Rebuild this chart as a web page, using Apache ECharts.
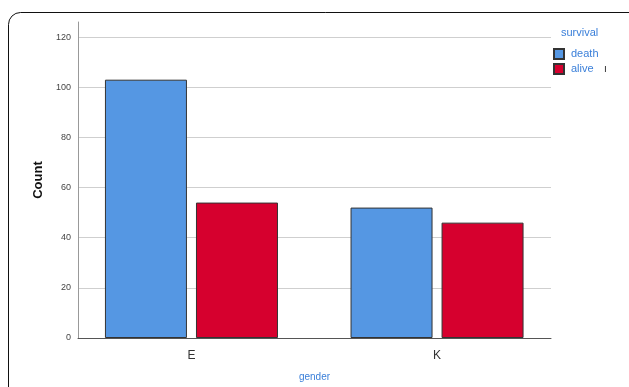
<!DOCTYPE html>
<html>
<head>
<meta charset="utf-8">
<script src="https://cdn.jsdelivr.net/npm/echarts@6/dist/echarts.min.js"></script>
<style>
  html, body { margin: 0; padding: 0; background: #fff; }
  #chart { width: 629px; height: 387px; }
</style>
</head>
<body>
<div id="chart"></div>
<script>
// Counts of survival outcome by gender
const categories = ['E', 'K'];
const seriesNames = ['death', 'alive'];
const deathValues = [103, 52];
const aliveValues = [54, 46];
const yTicks = [0, 20, 40, 60, 80, 100, 120];

const FONT = '"Liberation Sans", Arial, sans-serif';
const BLUE_TEXT = '#3a7fd9';

const toPoints = vals => vals.map((v, i) => [i, v]);

const chart = echarts.init(document.getElementById('chart'), null, { renderer: 'canvas' });

chart.setOption({
  animation: false,
  backgroundColor: '#fff',
  textStyle: { fontFamily: FONT },
  title: {
    text: 'survival',
    left: 556, top: 22,
    textStyle: { fontSize: 11, fontWeight: 'normal', color: BLUE_TEXT, fontFamily: FONT }
  },
  legend: {
    data: seriesNames,
    orient: 'vertical',
    left: 553, top: 48,
    padding: 0,
    itemWidth: 10, itemHeight: 10,
    itemGap: 3,
    icon: 'rect',
    textStyle: { fontSize: 11, color: BLUE_TEXT, fontFamily: FONT, padding: [-5, 0, 0, 2] }
  },
  grid: { left: 78, right: 78, top: 22, bottom: 47, containLabel: false },
  xAxis: {
    type: 'value',
    min: -0.462,
    max: 1.464,
    name: 'gender',
    nameLocation: 'middle',
    nameGap: 34,
    nameTextStyle: { fontSize: 10, color: BLUE_TEXT, fontFamily: FONT },
    axisLine: { show: true, onZero: false, lineStyle: { color: '#555', width: 1 } },
    axisTick: { show: false },
    splitLine: { show: false },
    axisLabel: {
      customValues: [0, 1],
      formatter: v => categories[Math.round(v)],
      fontSize: 12, color: '#333', margin: 12, fontFamily: FONT
    }
  },
  yAxis: {
    type: 'value',
    min: 0,
    max: 126,
    interval: 20,
    name: 'Count',
    nameLocation: 'middle',
    nameGap: 30,
    nameTextStyle: { fontSize: 13, fontWeight: 'bold', color: '#111', fontFamily: FONT },
    axisLine: { show: true, onZero: false, lineStyle: { color: '#999', width: 1 } },
    axisTick: { show: false },
    axisLabel: {
      customValues: yTicks,
      fontSize: 9, color: '#444', margin: 7, fontFamily: FONT
    },
    splitLine: {
      show: true,
      customValues: yTicks,
      showMinLine: false,
      showMaxLine: false,
      lineStyle: { color: '#cfcfcf', width: 1 }
    }
  },
  series: [
    {
      name: seriesNames[0],
      type: 'bar',
      data: toPoints(deathValues),
      barWidth: 82,
      barGap: '11%',
      itemStyle: { color: '#5597e3', borderColor: '#333', borderWidth: 1 }
    },
    {
      name: seriesNames[1],
      type: 'bar',
      data: toPoints(aliveValues),
      barWidth: 82,
      barGap: '11%',
      itemStyle: { color: '#d6002e', borderColor: '#333', borderWidth: 1 }
    }
  ],
  graphic: [
    {
      type: 'rect',
      shape: { x: 8.5, y: 12.5, width: 640, height: 400, r: 12 },
      style: { fill: null, stroke: '#111', lineWidth: 1 },
      silent: true
    },
    {
      type: 'text',
      left: 604, top: 64,
      style: { text: 'ı', fontSize: 10, fill: '#222', fontFamily: FONT }
    }
  ]
});
</script>
</body>
</html>
